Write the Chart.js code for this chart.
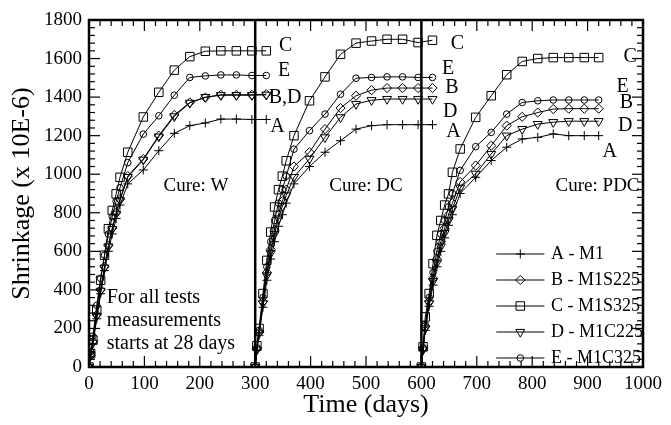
<!DOCTYPE html>
<html>
<head>
<meta charset="utf-8">
<script src="https://cdn.jsdelivr.net/npm/chart.js@4.4.0/dist/chart.umd.min.js"></script>
<style>
  html, body { margin: 0; padding: 0; background: #fff; }
</style>
</head>
<body>
<canvas id="shrink-chart" width="671" height="425"></canvas>
<script>
// days after the start of each cure period
const days = [0, 3, 7, 14, 21, 28, 35, 42, 49, 56, 70, 98, 126, 154, 182, 210, 238, 266, 294, 320];
const panelStart = [0, 300, 600];
const xTicks = [0, 100, 200, 300, 400, 500, 600, 700, 800, 900, 1000];
const yTicks = [0, 200, 400, 600, 800, 1000, 1200, 1400, 1600, 1800];

// Cure: W
const mixA_W = [0, 55, 120, 250, 380, 500, 600, 690, 770, 840, 950, 1022, 1122, 1212, 1252, 1266, 1286, 1286, 1284, 1284];
const mixB_W = [0, 60, 130, 270, 400, 520, 630, 720, 800, 870, 990, 1079, 1200, 1307, 1372, 1398, 1412, 1412, 1412, 1415];
const mixC_W = [0, 70, 140, 295, 450, 580, 717, 812, 898, 984, 1114, 1297, 1425, 1540, 1610, 1638, 1640, 1640, 1640, 1640];
const mixD_W = [0, 60, 125, 265, 395, 515, 625, 715, 795, 865, 985, 1075, 1195, 1300, 1370, 1400, 1410, 1410, 1410, 1412];
const mixE_W = [0, 80, 160, 320, 460, 580, 690, 780, 860, 930, 1060, 1208, 1303, 1410, 1502, 1510, 1515, 1515, 1512, 1512];

// Cure: DC
const mixA_DC = [0, 85, 165, 310, 450, 560, 650, 730, 790, 850, 950, 1040, 1114, 1174, 1234, 1252, 1257, 1257, 1257, 1257];
const mixB_DC = [0, 95, 180, 340, 490, 610, 710, 790, 860, 920, 1040, 1114, 1234, 1343, 1407, 1436, 1447, 1447, 1447, 1447];
const mixC_DC = [0, 110, 200, 381, 553, 700, 830, 920, 990, 1070, 1200, 1381, 1505, 1622, 1680, 1691, 1700, 1700, 1683, 1695];
const mixD_DC = [0, 90, 175, 330, 475, 590, 690, 770, 835, 890, 985, 1080, 1191, 1295, 1364, 1384, 1390, 1390, 1390, 1390];
const mixE_DC = [0, 100, 190, 360, 520, 650, 760, 850, 920, 990, 1130, 1226, 1312, 1415, 1498, 1502, 1505, 1505, 1502, 1502];

// Cure: PDC
const mixA_PDC = [0, 85, 190, 315, 425, 520, 600, 670, 735, 790, 900, 984, 1071, 1140, 1183, 1191, 1209, 1200, 1200, 1200];
const mixB_PDC = [0, 95, 210, 340, 460, 560, 650, 720, 790, 850, 960, 1045, 1148, 1252, 1298, 1320, 1338, 1340, 1340, 1340];
const mixC_PDC = [0, 105, 260, 381, 536, 683, 760, 840, 898, 1010, 1131, 1295, 1407, 1516, 1585, 1600, 1605, 1605, 1605, 1605];
const mixD_PDC = [0, 90, 200, 330, 445, 540, 625, 695, 760, 820, 930, 1002, 1105, 1200, 1234, 1260, 1270, 1275, 1275, 1275];
const mixE_PDC = [0, 100, 220, 360, 490, 600, 690, 760, 830, 900, 1020, 1143, 1217, 1312, 1372, 1381, 1385, 1385, 1385, 1385];

const seriesNames = ["A - M1", "B - M1S225", "C - M1S325", "D - M1C225", "E - M1C325"];
const cureNames = ["Cure: W", "Cure: DC", "Cure: PDC"];

const serif = "'Liberation Serif', 'Times New Roman', serif";

// one dataset per mix, with a null gap between cure periods
function joinPanels(panels) {
  const out = [];
  panels.forEach((vals, p) => {
    vals.forEach((v, i) => out.push({ x: panelStart[p] + days[i], y: v }));
    out.push({ x: panelStart[p] + days[days.length - 1] + 1, y: null });
  });
  return out;
}

const styles = [
  { pointStyle: "cross", radius: 4.5, rotation: 0 },
  { pointStyle: "rectRot", radius: 4.6, rotation: 0 },
  { pointStyle: "rect", radius: 6, rotation: 0 },
  { pointStyle: "triangle", radius: 5.2, rotation: 180 },
  { pointStyle: "circle", radius: 3.3, rotation: 0 },
];

const panelsBySeries = [
  [mixA_W, mixA_DC, mixA_PDC],
  [mixB_W, mixB_DC, mixB_PDC],
  [mixC_W, mixC_DC, mixC_PDC],
  [mixD_W, mixD_DC, mixD_PDC],
  [mixE_W, mixE_DC, mixE_PDC],
];

const datasets = seriesNames.map((name, i) => ({
  label: name,
  data: joinPanels(panelsBySeries[i]),
  borderColor: "#000",
  borderWidth: 1,
  tension: 0,
  spanGaps: false,
  pointStyle: styles[i].pointStyle,
  pointRadius: styles[i].radius,
  pointRotation: styles[i].rotation,
  pointBorderColor: "#000",
  pointBorderWidth: 1,
  pointBackgroundColor: "rgba(0,0,0,0)",
}));

// end-of-curve letters: [day, value, text]
const endLabels = [
  [355, 1665, "C"], [352, 1535, "E"], [354, 1395, "B,D"], [340, 1245, "A"],
  [665, 1675, "C"], [648, 1545, "E"], [655, 1450, "B"], [652, 1325, "D"], [658, 1220, "A"],
  [977, 1610, "C"], [963, 1455, "E"], [970, 1370, "B"], [968, 1250, "D"], [940, 1115, "A"],
];
const curePos = [[193, 940], [500, 940], [918, 940]];

const framePlugin = {
  id: "frame",
  afterDatasetsDraw(chart) {
    const { ctx, chartArea: a, scales: { x, y } } = chart;
    const seg = (x1, y1, x2, y2) => {
      ctx.beginPath();
      ctx.moveTo(x1, y1);
      ctx.lineTo(x2, y2);
      ctx.stroke();
    };
    ctx.save();
    ctx.strokeStyle = "#000";
    ctx.fillStyle = "#000";

    // inward ticks on all four sides
    ctx.lineWidth = 1.2;
    for (let d = 0; d <= 1000; d += 20) {
      const px = x.getPixelForValue(d);
      const len = d % 100 === 0 ? 11 : 6;
      seg(px, a.bottom, px, a.bottom - len);
      seg(px, a.top, px, a.top + len);
    }
    for (let v = 0; v <= 1800; v += 40) {
      const py = y.getPixelForValue(v);
      const len = v % 200 === 0 ? 11 : 6;
      seg(a.left, py, a.left + len, py);
      seg(a.right, py, a.right - len, py);
    }

    // panel dividers and frame
    ctx.lineWidth = 2.5;
    panelStart.slice(1).forEach((d) => {
      const px = x.getPixelForValue(d);
      seg(px, a.top, px, a.bottom);
    });
    ctx.strokeRect(a.left, a.top, a.right - a.left, a.bottom - a.top);

    // curve letters
    ctx.font = "20px " + serif;
    ctx.textBaseline = "middle";
    ctx.textAlign = "center";
    endLabels.forEach(([d, v, t]) => {
      ctx.fillText(t, x.getPixelForValue(d), y.getPixelForValue(v));
    });

    ctx.font = "19px " + serif;
    cureNames.forEach((t, i) => {
      ctx.fillText(t, x.getPixelForValue(curePos[i][0]), y.getPixelForValue(curePos[i][1]));
    });

    // note
    ctx.font = "20px " + serif;
    ctx.textAlign = "left";
    const noteX = x.getPixelForValue(32);
    ["For all tests", "measurements", "starts at 28 days"].forEach((t, i) => {
      ctx.fillText(t, noteX, a.bottom - 69 + i * 23);
    });

    // legend box (bottom right)
    ctx.font = "18px " + serif;
    chart.data.datasets.forEach((ds, i) => {
      const ly = a.bottom - 113 + i * 26;
      const x0 = x.getPixelForValue(735);
      const x1 = x.getPixelForValue(822);
      ctx.lineWidth = 1;
      seg(x0, ly, x1, ly);
      ctx.fillStyle = "rgba(0,0,0,0)";
      Chart.helpers.drawPoint(ctx, {
        pointStyle: ds.pointStyle,
        radius: ds.pointRadius,
        rotation: ds.pointRotation,
        borderWidth: 1,
      }, (x0 + x1) / 2, ly);
      ctx.fillStyle = "#000";
      ctx.fillText(ds.label, x.getPixelForValue(834), ly);
    });
    ctx.restore();
  },
};

const shrink = new Chart(document.getElementById("shrink-chart"), {
  type: "line",
  data: { datasets },
  options: {
    responsive: false,
    animation: false,
    devicePixelRatio: 1,
    layout: { padding: { top: 20, right: 28, left: 0, bottom: 0 } },
    plugins: {
      legend: { display: false },
      tooltip: { enabled: false },
    },
    scales: {
      x: {
        type: "linear",
        min: 0,
        max: 1000,
        afterBuildTicks: (s) => { s.ticks = xTicks.map((v) => ({ value: v })); },
        afterFit: (s) => { s.height = 58; },
        grid: { display: false, drawTicks: false },
        border: { display: false },
        ticks: {
          color: "#000",
          padding: 6,
          font: { family: serif, size: 19 },
          callback: (v) => String(v),
        },
        title: {
          display: true,
          text: "Time (days)",
          color: "#000",
          padding: { top: 0, bottom: 4 },
          font: { family: serif, size: 26 },
        },
      },
      y: {
        min: 0,
        max: 1800,
        afterBuildTicks: (s) => { s.ticks = yTicks.map((v) => ({ value: v })); },
        afterFit: (s) => { s.width = 89; },
        grid: { display: false, drawTicks: false },
        border: { display: false },
        ticks: {
          color: "#000",
          padding: 7,
          font: { family: serif, size: 19 },
          callback: (v) => String(v),
        },
        title: {
          display: true,
          text: "Shrinkage (x 10E-6)",
          color: "#000",
          padding: { top: 7, bottom: 4 },
          font: { family: serif, size: 26 },
        },
      },
    },
  },
  plugins: [framePlugin],
});
</script>
</body>
</html>
